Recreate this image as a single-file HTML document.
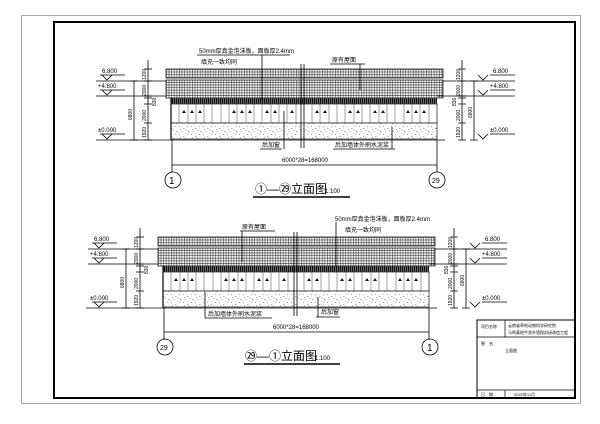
<!DOCTYPE html>
<html><head><meta charset="utf-8"><style>
html,body{margin:0;padding:0;background:#fff;}
svg{display:block;}
text{font-family:"Liberation Sans","Noto Sans CJK SC",sans-serif;fill:#000;}
</style></head><body>
<svg width="600" height="424" viewBox="0 0 600 424" xmlns="http://www.w3.org/2000/svg">
<defs>
<pattern id="grid" width="2.6" height="2.6" patternUnits="userSpaceOnUse">
<rect width="2.6" height="2.6" fill="#fff"/><path d="M0 0.4H2.6M0.4 0V2.6" stroke="#555" stroke-width="0.7"/>
</pattern>
<pattern id="band" width="2" height="6" patternUnits="userSpaceOnUse">
<rect width="2" height="6" fill="#666"/><path d="M0.5 0V6" stroke="#111" stroke-width="1"/>
</pattern>
<pattern id="stone" width="12" height="8" patternUnits="userSpaceOnUse">
<rect width="12" height="8" fill="#fff"/>
<g fill="#aaa"><rect x="1" y="1" width="1" height="1"/><rect x="5" y="3" width="1.5" height="1"/><rect x="9" y="1" width="1" height="1"/><rect x="3" y="6" width="1" height="1"/><rect x="7" y="5" width="1" height="1"/><rect x="10" y="6" width="1.5" height="1"/><rect x="2" y="4" width="1" height="1"/></g>
</pattern>
<g id="bld">
<rect x="0" y="0" width="277" height="9" fill="url(#grid)" stroke="#222" stroke-width="0.8"/>
<rect x="0" y="11" width="277" height="18" fill="url(#grid)" stroke="#222" stroke-width="0.8"/>
<rect x="5" y="29" width="266" height="6" fill="url(#band)"/>
<rect x="5" y="35" width="266" height="19" fill="#fff" stroke="#333" stroke-width="0.8"/>
<g stroke="#666" stroke-width="0.6">
<path d="M13 35v19M22 35v19M30 35v19M38 35v19M46 35v19M55 35v19M63 35v19M71 35v19M80 35v19M88 35v19M96 35v19M105 35v19M113 35v19M121 35v19M130 35v19M146 35v19M154 35v19M163 35v19M171 35v19M179 35v19M188 35v19M196 35v19M204 35v19M213 35v19M221 35v19M229 35v19M238 35v19M246 35v19M254 35v19M263 35v19"/>
</g>
<g fill="#111">
<path d="M16 44l2-3 2 3zM24 44l2-3 2 3zM32 44l2-3 2 3zM66 44l2-3 2 3zM74 44l2-3 2 3zM82 44l2-3 2 3zM99 44l2-3 2 3zM107 44l2-3 2 3zM124 44l2-3 2 3zM149 44l2-3 2 3zM157 44l2-3 2 3zM182 44l2-3 2 3zM190 44l2-3 2 3zM207 44l2-3 2 3zM215 44l2-3 2 3zM240 44l2-3 2 3zM248 44l2-3 2 3zM256 44l2-3 2 3z"/>
</g>
<rect x="5" y="54" width="266" height="16" fill="url(#stone)" stroke="#333" stroke-width="0.8"/>
<path d="M5 29V71" stroke="#000" stroke-width="1.2"/>
</g>
</defs>

<rect x="21.5" y="15.5" width="559" height="388" fill="none" stroke="#aaa" stroke-width="1"/>
<rect x="54" y="22" width="521" height="376" fill="none" stroke="#000" stroke-width="2"/>

<!-- TOP -->
<use href="#bld" x="166" y="69"/>
<g stroke="#000" stroke-width="0.8" fill="none">
<path d="M96 140H445"/>
<path d="M301 64V148M304 64V148"/>
<path d="M96 81H166M96 96H166"/>
<path d="M100 75H125M112 75l-5 5-5-5M100 90H125M112 90l-5 5-5-5M100 134H125M112 134l-5 5-5-5" />
<path d="M134 81V140M130 81h8M130 140h8"/>
<path d="M148 60V140M144 69h8M144 81h8M144 96h8M144 98h8M144 104h8M144 123h8M144 140h8"/>
<path d="M443 81H515M437 96H515"/>
<path d="M490 75H515M488 75l-5 5-5-5M490 90H515M488 90l-5 5-5-5M490 134H515M488 134l-5 5-5-5"/>
<path d="M474 81V140M470 81h8M470 140h8"/>
<path d="M462 60V140M458 69h8M458 81h8M458 96h8M458 98h8M458 104h8M458 123h8M458 140h8"/>
<path d="M172 140V172M437 140V172M172 165H437"/>
<circle cx="173" cy="180" r="8"/><circle cx="437" cy="180" r="8"/>
<path d="M197 55H290M262 55V100M330 64H365M360 64V90M260 149H282M284 149V111M333 149H395M392 149V127"/>
<path d="M253 197H350" stroke-width="1.5"/>
</g>
<g font-size="6">
<text x="199" y="53">50mm厚真金泡沫板，面板厚2.4mm</text>
<text x="201" y="64">填充一致均同</text>
<text x="332" y="62">原有屋面</text>
<text x="262" y="147">后加窗</text>
<text x="335" y="147">后加墙体外刷水泥浆</text>
<text x="282" y="162">6000*28=168000</text>
<text x="102" y="73">6.800</text><text x="98" y="88">+4.800</text><text x="98" y="132">±0.000</text>
<text x="493" y="73">6.800</text><text x="490" y="88">+4.800</text><text x="490" y="132">±0.000</text>
</g>
<g font-size="5">
<text transform="translate(146,80) rotate(-90)">1200</text>
<text transform="translate(146,96) rotate(-90)">2000</text>
<text transform="translate(146,121) rotate(-90)">2000</text>
<text transform="translate(146,138) rotate(-90)">1920</text>
<text transform="translate(132,120) rotate(-90)">6800</text>
<text transform="translate(156,106) rotate(-90)">830</text>
<text transform="translate(460,80) rotate(-90)">1200</text>
<text transform="translate(460,96) rotate(-90)">2000</text>
<text transform="translate(460,121) rotate(-90)">2000</text>
<text transform="translate(460,138) rotate(-90)">1920</text>
<text transform="translate(472,118) rotate(-90)">6800</text>
<text transform="translate(456,106) rotate(-90)">830</text>
</g>
<text x="169" y="184" font-size="10">1</text>
<text x="432" y="183" font-size="7">29</text>
<text x="255" y="193" font-size="12">①—㉙立面图</text>
<text x="325" y="193" font-size="6">1:100</text>

<!-- BOTTOM -->
<use href="#bld" x="158" y="237"/>
<g stroke="#000" stroke-width="0.8" fill="none">
<path d="M86 308H437"/>
<path d="M294 232V316M297 232V316"/>
<path d="M88 249H158M88 264H158"/>
<path d="M92 243H117M104 243l-5 5-5-5M92 258H117M104 258l-5 5-5-5M92 302H117M104 302l-5 5-5-5"/>
<path d="M126 249V308M122 249h8M122 308h8"/>
<path d="M140 228V308M136 237h8M136 249h8M136 264h8M136 266h8M136 272h8M136 291h8M136 308h8"/>
<path d="M435 249H507M429 264H507"/>
<path d="M482 243H507M480 243l-5 5-5-5M482 258H507M480 258l-5 5-5-5M482 302H507M480 302l-5 5-5-5"/>
<path d="M466 249V308M462 249h8M462 308h8"/>
<path d="M454 228V308M450 237h8M450 249h8M450 264h8M450 266h8M450 272h8M450 291h8M450 308h8"/>
<path d="M164 308V340M429 308V340M164 332H429"/>
<circle cx="165" cy="347" r="8"/><circle cx="430" cy="347" r="8"/>
<path d="M240 231H275M242 231V262M336 222V266M205 318H272M205 318V292M316 317H340M318 317V297"/>
<path d="M244 364H340" stroke-width="1.5"/>
</g>
<g font-size="6">
<text x="242" y="229">原有屋面</text>
<text x="335" y="221">50mm厚真金泡沫板，面板厚2.4mm</text>
<text x="345" y="232">填充一致均同</text>
<text x="208" y="316">后加墙体外刷水泥浆</text>
<text x="321" y="314">后加窗</text>
<text x="273" y="329">6000*28=168000</text>
<text x="94" y="241">6.800</text><text x="90" y="256">+4.800</text><text x="90" y="300">±0.000</text>
<text x="485" y="241">6.800</text><text x="482" y="256">+4.800</text><text x="482" y="300">±0.000</text>
</g>
<g font-size="5">
<text transform="translate(138,248) rotate(-90)">1200</text>
<text transform="translate(138,264) rotate(-90)">2000</text>
<text transform="translate(138,289) rotate(-90)">2000</text>
<text transform="translate(138,306) rotate(-90)">1920</text>
<text transform="translate(124,288) rotate(-90)">6800</text>
<text transform="translate(148,274) rotate(-90)">830</text>
<text transform="translate(452,248) rotate(-90)">1200</text>
<text transform="translate(452,264) rotate(-90)">2000</text>
<text transform="translate(452,289) rotate(-90)">2000</text>
<text transform="translate(452,306) rotate(-90)">1920</text>
<text transform="translate(464,286) rotate(-90)">6800</text>
<text transform="translate(448,274) rotate(-90)">830</text>
</g>
<text x="160" y="350" font-size="7">29</text>
<text x="427" y="351" font-size="10">1</text>
<text x="245" y="360" font-size="12">㉙—①立面图</text>
<text x="315" y="360" font-size="6">1:100</text>

<g stroke="#000" fill="none">
<rect x="477" y="320" width="98" height="78" stroke-width="1"/>
<path d="M477 337H575M477 390H575M505 320V337M505 390V398" stroke-width="0.7"/>
</g>
<g font-size="4">
<text x="481" y="328">项目名称</text>
<text x="508" y="327">云南省草地动物科学研究院</text>
<text x="508" y="334">马鸣基地牛舍外墙保封闭改造工程</text>
<text x="481" y="345">图　名:</text>
<text x="505" y="352">立面图</text>
<text x="481" y="396">日　期</text>
<text x="514" y="396">2022年11月</text>
</g>
</svg>
</body></html>
